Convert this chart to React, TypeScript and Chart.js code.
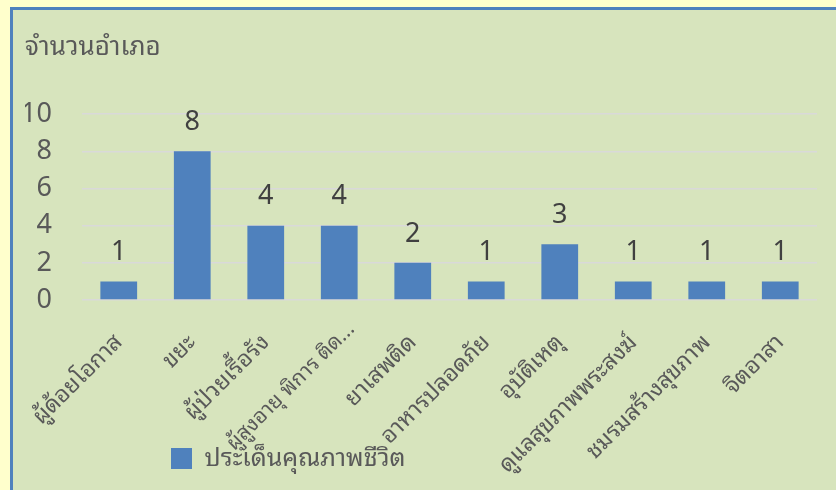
import React, { useEffect, useRef } from "react";
import { Chart, registerables } from "chart.js";

Chart.register(...registerables);

const chartTitle = "จำนวนอำเภอ";
const seriesName = "ประเด็นคุณภาพชีวิต";
const categories = [
  "ผู้ด้อยโอกาส",
  "ขยะ",
  "ผู้ป่วยเรื้อรัง",
  "ผู้สูงอายุ พิการ ติด...",
  "ยาเสพติด",
  "อาหารปลอดภัย",
  "อุบัติเหตุ",
  "ดูแลสุขภาพพระสงฆ์",
  "ชมรมสร้างสุขภาพ",
  "จิตอาสา",
];
const values = [1, 8, 4, 4, 2, 1, 3, 1, 1, 1];
const yMin = 0;
const yMax = 10;
const yStep = 2;

const FONT = "'Noto Sans', 'Noto Sans Thai Looped', sans-serif";
const BAR = "#4f81bd";
const TEXT = "#595959";

const isTruncated = (s: any) => typeof s === "string" && s.endsWith("...");

const valueLabels = {
  id: "valueLabels",
  afterDatasetsDraw(chart: any) {
    const { ctx } = chart;
    const meta = chart.getDatasetMeta(0);
    const data = chart.data.datasets[0].data;
    ctx.save();
    ctx.font = `27px ${FONT}`;
    ctx.fillStyle = "#404040";
    ctx.textAlign = "center";
    ctx.textBaseline = "middle";
    meta.data.forEach((bar: any, i: number) => {
      ctx.fillText(String(data[i]), bar.x, bar.y - 29);
    });
    ctx.restore();
  },
};

// the truncated label sits further up-right along its diagonal in the reference
const TRUNCATED_SHIFT = 12;

const layoutTweaks = {
  id: "layoutTweaks",
  afterLayout(chart: any) {
    const lg = chart.legend;
    if (lg) {
      const w = lg.right - lg.left;
      lg.left = 161;
      lg.right = 161 + w;
    }
    const xs = chart.scales.x;
    if (xs) xs.bottom = chart.height;
  },
  beforeDraw(chart: any) {
    const xs = chart.scales.x;
    if (!xs || !xs.getLabelItems) return;
    const items = xs.getLabelItems(chart.chartArea);
    items.forEach((it: any) => {
      const lbl = Array.isArray(it.label) ? it.label.join("") : it.label;
      if (isTruncated(lbl) && !it._shifted) {
        const tr = (it.options && it.options.translation) || it.translation;
        if (tr) {
          tr[0] += TRUNCATED_SHIFT;
          tr[1] -= TRUNCATED_SHIFT;
          it._shifted = true;
        }
      }
    });
  },
};

export default function App() {
  const ref = useRef<HTMLCanvasElement | null>(null);

  useEffect(() => {
    if (!ref.current) return;
    const chart = new Chart(ref.current, {
      type: "bar",
      data: {
        labels: categories,
        datasets: [
          {
            label: seriesName,
            data: values,
            backgroundColor: BAR,
            borderWidth: 0,
            categoryPercentage: 1,
            barPercentage: 0.5,
          },
        ],
      },
      plugins: [valueLabels, layoutTweaks],
      options: {
        responsive: false,
        animation: false,
        layout: { padding: { left: 25, right: 19, top: 0, bottom: 9 } },
        plugins: {
          tooltip: { enabled: false },
          title: {
            display: true,
            text: chartTitle,
            align: "start",
            color: TEXT,
            font: { family: FONT, size: 26, weight: "normal", lineHeight: 1.2 },
            padding: { top: 32, bottom: 51 },
          },
          legend: {
            display: true,
            position: "bottom",
            align: "start",
            labels: {
              color: TEXT,
              font: { family: FONT, size: 25 },
              boxWidth: 21,
              boxHeight: 21,
              padding: 10,
            },
          },
        },
        scales: {
          x: {
            grid: { display: false, drawTicks: false },
            border: { display: false },
            ticks: {
              color: TEXT,
              font: (ctx: any) => ({
                family: FONT,
                size: isTruncated(categories[ctx.index]) ? 21 : 23,
              }),
              minRotation: 45,
              maxRotation: 45,
              autoSkip: false,
              padding: 29,
            },
            afterFit(scale: any) {
              scale.height = 136;
            },
          },
          y: {
            min: yMin,
            max: yMax,
            ticks: {
              stepSize: yStep,
              autoSkip: false,
              color: TEXT,
              font: { family: FONT, size: 27 },
              padding: 30,
            },
            grid: { color: "#d9d9d9", lineWidth: 1.5, drawTicks: false },
            border: { display: false },
            afterFit(scale: any) {
              scale.width = 57;
            },
          },
        },
      },
    });
    return () => chart.destroy();
  }, []);

  return (
    <div
      style={{
        position: "fixed",
        inset: 0,
        overflow: "hidden",
        background: "#ffffcc",
      }}
    >
      <div
        style={{
          position: "absolute",
          left: 10,
          top: 7,
          width: 900,
          height: 600,
          boxSizing: "border-box",
          border: "3px solid #4f81bd",
          background: "#d7e4bd",
        }}
      />
      <canvas
        ref={ref}
        width={836}
        height={490}
        style={{ position: "absolute", left: 0, top: 0, width: 836, height: 490 }}
      />
    </div>
  );
}
